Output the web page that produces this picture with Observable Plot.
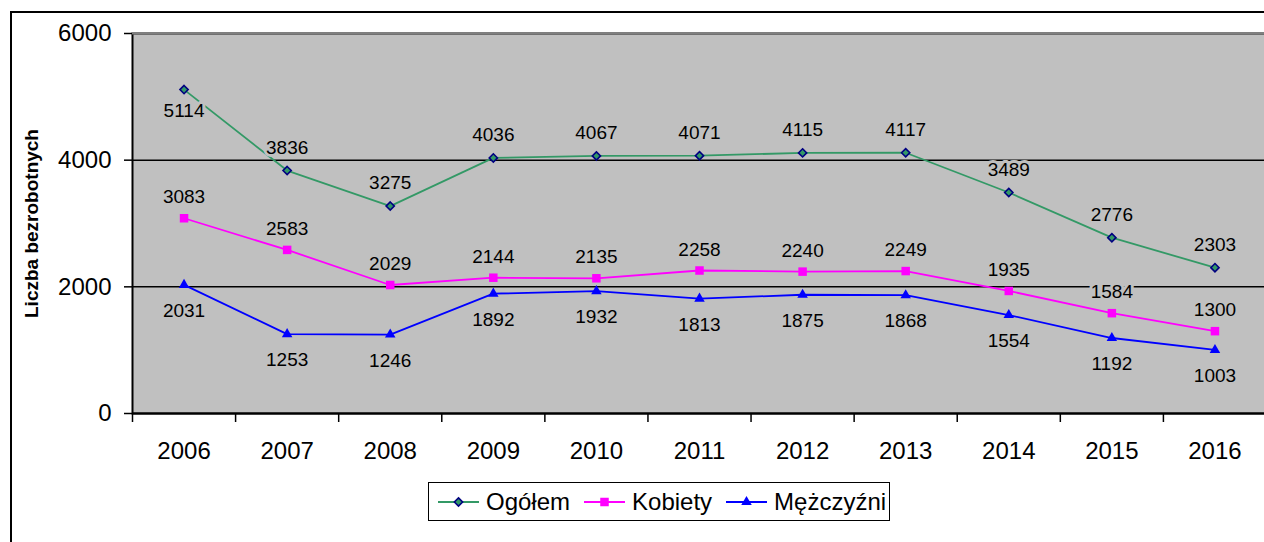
<!DOCTYPE html>
<html>
<head>
<meta charset="utf-8">
<script src="https://cdn.jsdelivr.net/npm/d3@7"></script>
<script src="https://cdn.jsdelivr.net/npm/@observablehq/plot@0.6"></script>
<style>
  html, body { margin: 0; padding: 0; background: #fff; }
  #wrap { position: relative; width: 1264px; height: 542px; overflow: hidden; font-family: "Liberation Sans", Arial, sans-serif; }
  #outer { position: absolute; left: 10px; top: 11px; width: 1400px; height: 700px; border-left: 2px solid #000; border-top: 2px solid #000; box-sizing: border-box; }
  #chart { position: absolute; left: 0; top: 0; }
  #legend { position: absolute; left: 428px; top: 482px; width: 462px; height: 39px; box-sizing: border-box; border: 1.5px solid #000; background: #fff; display: flex; align-items: center; padding-left: 9px; font-size: 24px; color: #000; }
  #legend .item { display: flex; align-items: center; margin-right: 14px; }
  #legend svg { margin-right: 7px; }
</style>
</head>
<body>
<div id="wrap">
  <div id="outer"></div>
  <div id="chart"></div>
  <div id="legend"></div>
</div>
<script>
const years = [2006, 2007, 2008, 2009, 2010, 2011, 2012, 2013, 2014, 2015, 2016];
const ogolem = [5114, 3836, 3275, 4036, 4067, 4071, 4115, 4117, 3489, 2776, 2303];
const kobiety = [3083, 2583, 2029, 2144, 2135, 2258, 2240, 2249, 1935, 1584, 1300];
const mezczyzni = [2031, 1253, 1246, 1892, 1932, 1813, 1875, 1868, 1554, 1192, 1003];
const seriesNames = ["Ogółem", "Kobiety", "Mężczyźni"];
const yTicks = [0, 2000, 4000, 6000];
const gridValues = [2000, 4000];
const yLabel = "Liczba bezrobotnych";

const styles = {
  "Ogółem":    {line: "#339966", fill: "#339966", stroke: "#000080", symbol: "diamond2", r: 3.7, sw: 1.6},
  "Kobiety":   {line: "#ff00ff", fill: "#ff00ff", stroke: "none", symbol: "square", r: 4.8, sw: 0},
  "Mężczyźni": {line: "#0000ff", fill: "#0000ff", stroke: "none", symbol: "triangle", r: 3.9, sw: 0}
};

const values = {"Ogółem": ogolem, "Kobiety": kobiety, "Mężczyźni": mezczyzni};
const rows = seriesNames.flatMap(s => values[s].map((v, i) => ({series: s, i, year: years[i], value: v})));

function labelDy(d) {
  if (d.series === "Ogółem") return d.i === 0 ? 21 : -23;
  if (d.series === "Kobiety") return -21;
  return 26;
}

const marks = [
  Plot.frame({fill: "#c0c0c0", stroke: "#000", strokeWidth: 2}),
  Plot.ruleY(gridValues, {stroke: "#000", strokeWidth: 1.5}),
  Plot.ruleY([6000], {stroke: "#808080", strokeWidth: 2}),
  Plot.ruleY([0], {stroke: "#000", strokeWidth: 2}),
  Plot.axisY({ticks: yTicks, tickSize: 8, tickPadding: 13, tickFormat: d => String(d), fontSize: 24, label: null, strokeWidth: 1.5}),
  Plot.axisX({ticks: d3.range(0, years.length), tickSize: 9, tickFormat: () => "", label: null, strokeWidth: 1.5}),
  Plot.axisX({ticks: years.map((y, i) => i + 0.5), tickSize: 0, tickPadding: 28, tickFormat: (d) => String(years[Math.floor(d)]), fontSize: 24, label: null})
];

for (const s of seriesNames) {
  const st = styles[s];
  const data = rows.filter(d => d.series === s);
  marks.push(Plot.line(data, {x: d => d.i + 0.5, y: "value", stroke: st.line, strokeWidth: 1.8}));
}
for (const s of seriesNames) {
  const st = styles[s];
  const data = rows.filter(d => d.series === s);
  marks.push(Plot.dot(data, {x: d => d.i + 0.5, y: "value", symbol: st.symbol, r: st.r, fill: st.fill, stroke: st.stroke, strokeWidth: st.sw}));
}
for (const s of seriesNames) {
  const data = rows.filter(d => d.series === s);
  for (const d of data) {
    marks.push(Plot.text([d], {x: d => d.i + 0.5, y: "value", text: d => String(d.value), dy: labelDy(d), fontSize: 19, fill: "#000", stroke: "#c0c0c0", strokeWidth: 6}));
  }
}
marks.push(Plot.text([yLabel], {frameAnchor: "left", textAnchor: "middle", rotate: -90, dx: -101, dy: 0, fontSize: 19, fontWeight: "bold", fill: "#000"}));

const chart = Plot.plot({
  width: 1264,
  height: 470,
  marginLeft: 132,
  marginRight: -2,
  marginTop: 33,
  marginBottom: 57,
  x: {domain: [0, years.length]},
  y: {domain: [0, 6000]},
  style: {fontFamily: '"Liberation Sans", Arial, sans-serif', fontSize: "24px", color: "#000", background: "transparent", overflow: "visible"},
  marks
});
document.getElementById("chart").appendChild(chart);

// Legend
const legend = document.getElementById("legend");
for (const s of seriesNames) {
  const st = styles[s];
  const item = document.createElement("div");
  item.className = "item";
  const size = Math.PI * st.r * st.r;
  const symType = st.symbol === "diamond2" ? d3.symbolDiamond2 : st.symbol === "square" ? d3.symbolSquare : d3.symbolTriangle;
  const path = d3.symbol(symType, size)();
  const svg = `<svg width="41" height="20" viewBox="0 0 41 20"><line x1="0" y1="10" x2="41" y2="10" stroke="${st.line}" stroke-width="1.8"/><path d="${path}" transform="translate(20.5,10)" fill="${st.fill}" stroke="${st.stroke}" stroke-width="${st.sw}"/></svg>`;
  item.innerHTML = svg + `<span>${s}</span>`;
  legend.appendChild(item);
}
</script>
</body>
</html>
